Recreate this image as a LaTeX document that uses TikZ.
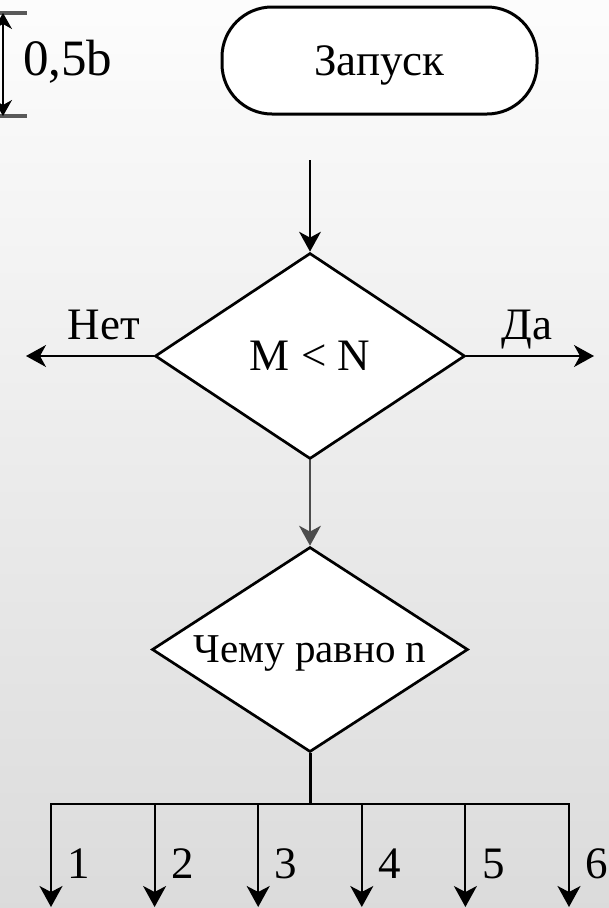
\documentclass[tikz,border=0pt]{standalone}
\usepackage{fontspec}
\setmainfont{Liberation Serif}
\usetikzlibrary{shapes.geometric, arrows.meta}

\begin{document}
\begin{tikzpicture}[x=1pt, y=-1pt,
        term/.style={draw, line width=3pt, fill=white, rounded corners=50pt, minimum width=315pt, minimum height=107pt, text depth=0pt, font=\fontsize{45}{50}\selectfont},
        decision/.style={draw, diamond, aspect=1.5, line width=2.7pt, fill=white, inner sep=0pt, text depth=0pt},
        lbl/.style={anchor=base, inner sep=0pt, font=\fontsize{45}{50}\selectfont},
        flow/.style={line width=1.4pt, -{Stealth[length=20pt, width=22pt, inset=6pt]}},
        branch/.style={line width=2pt, -{Stealth[length=21pt, width=23pt, inset=6pt]}}]
    % Фон
    \shade[top color=black!1, middle color=black!4, bottom color=black!14] (0,0) rectangle (609,908);
    \useasboundingbox (0,0) rectangle (609,908);

    % Размер 0,5b
    \coordinate (dimtop) at (3,13);
    \coordinate (dimbot) at (3,116);
    \draw[line width=3.5pt, black!65] (0,13) -- (27,13) (0,116) -- (27,116);
    \draw[line width=1.4pt, {Stealth[length=16pt, width=18pt, inset=5pt]}-{Stealth[length=16pt, width=18pt, inset=5pt]}] (dimtop) -- (dimbot);
    \node[lbl, anchor=base west, font=\fontsize{51}{56}\selectfont] (dimlbl) at (23,75) {0,5b};

    % Запуск
    \node[term] (start) at (379.5,60.5) {Запуск};

    % Первое условие
    \coordinate (feed) at (310,160);
    \node[decision, minimum width=310pt, minimum height=206pt, font=\fontsize{45}{50}\selectfont] (cmp) at (310,356) {M < N};
    \draw[flow] (feed) -- (cmp.north);

    % Нет / Да
    \coordinate (no) at (26,356);
    \coordinate (yes) at (594,356);
    \draw[flow] (cmp.west) -- (no);
    \draw[flow] (cmp.east) -- (yes);
    \node[lbl] (nolbl) at (104,339) {Нет};
    \node[lbl] (yeslbl) at (527,339) {Да};

    % Второе условие
    \node[decision, minimum width=316pt, minimum height=205pt, font=\fontsize{41}{46}\selectfont] (which) at (310,649.5) {Чему равно n};
    \draw[flow, black!70] (cmp.south) -- (which.north);

    % Ветвление
    \coordinate (hub) at (310,804);
    \draw[line width=3pt] (which.south) -- (hub);
    \foreach \i in {1,...,6} {
        \coordinate (tap\i) at ({51+(\i-1)*103.6},804);
        \coordinate (out\i) at ({51+(\i-1)*103.6},907);
        \draw[branch] (tap\i) -- (out\i);
        \node[lbl] (num\i) at ({79+(\i-1)*103.6},878) {\i};
    }
    \draw[line width=2pt, line cap=rect] (tap1) -- (tap6);
\end{tikzpicture}
\end{document}
